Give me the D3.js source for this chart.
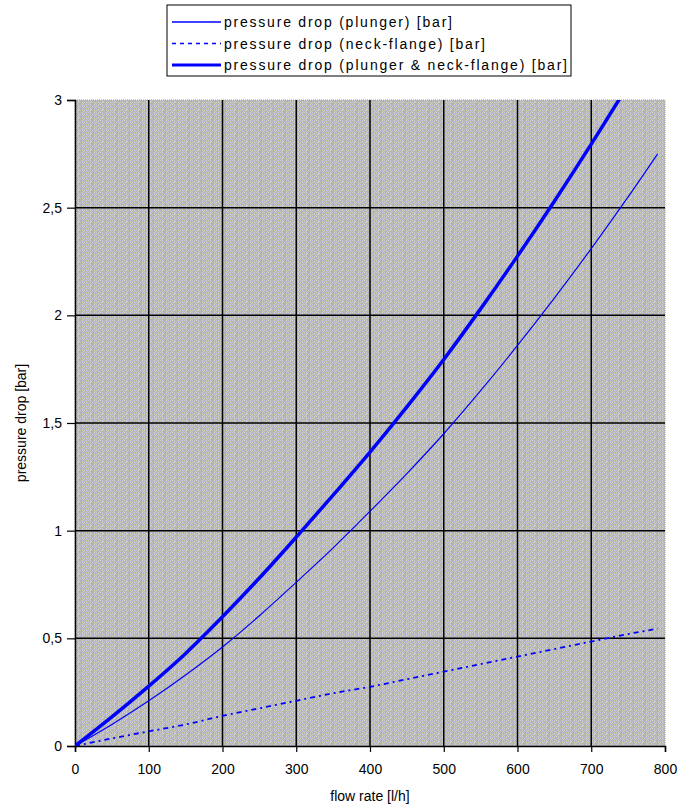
<!DOCTYPE html>
<html>
<head>
    <title>Pressure drop vs flow rate</title>
    <script src="https://d3js.org/d3.v7.min.js"></script>
    <style>
        body { margin: 0; background: #fff; }
        text { font-family: "Liberation Sans", Arial, sans-serif; fill: #000; }
    </style>
</head>
<body>
    <svg id="chart" width="687" height="809"></svg>

    <script>
        // flow rate [l/h]
        const flow = [0, 50, 100, 150, 200, 250, 300, 350, 400, 450, 500, 550, 600, 650, 700, 750, 790];
        // pressure drop (plunger) [bar]
        const plunger = [0, 0.10, 0.21, 0.33, 0.46, 0.605, 0.76, 0.92, 1.09, 1.265, 1.45, 1.65, 1.86, 2.08, 2.31, 2.55, 2.75];
        // pressure drop (neck-flange) [bar]
        const neck = [0, 0.035, 0.068, 0.10, 0.14, 0.175, 0.21, 0.245, 0.275, 0.31, 0.345, 0.38, 0.415, 0.45, 0.485, 0.52, 0.545];
        // pressure drop (plunger & neck-flange) [bar]
        const total = [0, 0.135, 0.278, 0.43, 0.60, 0.78, 0.97, 1.165, 1.365, 1.575, 1.795, 2.03, 2.275, 2.53, 2.795, 3.07, 3.295];

        const xTicks = [0, 100, 200, 300, 400, 500, 600, 700, 800];
        const yTicks = [0, 0.5, 1, 1.5, 2, 2.5, 3];

        const svg = d3.select('#chart');
        const plotLeft = 75, plotRight = 665, plotTop = 100, plotBottom = 746;

        const x = d3.scaleLinear().domain([0, 800]).range([plotLeft, plotRight]);
        const y = d3.scaleLinear().domain([0, 3]).range([plotBottom, plotTop]);

        // dithered grey background like the old spreadsheet fill
        const defs = svg.append('defs');
        const tileW = 12, tileH = 8;
        const pat = defs.append('pattern')
            .attr('id', 'dither')
            .attr('patternUnits', 'userSpaceOnUse')
            .attr('width', tileW).attr('height', tileH);
        pat.append('rect').attr('width', tileW).attr('height', tileH).attr('fill', '#b6b6b0');
        // rows of the dither tile: L = lavender, Y = pale yellow, . = grey
        const tileRows = [
            'L.L.Y.L...Y.',
            '..Y...L...L.',
            'Y.L...Y.L.L.',
            '...L...L...Y',
            'L...Y.L...L.',
            '..Y...LY....',
            'Y.L.L.Y...Y.',
            '...L.L.....L'
        ];
        const dotColour = { L: '#c4c4ec', Y: '#d8d8aa' };
        tileRows.forEach((row, r) => row.split('').forEach((c, k) => {
            if (dotColour[c]) {
                pat.append('rect').attr('x', k).attr('y', r)
                    .attr('width', 1).attr('height', 1).attr('fill', dotColour[c]);
            }
        }));

        defs.append('clipPath').attr('id', 'plotClip')
            .append('rect').attr('x', plotLeft).attr('y', plotTop)
            .attr('width', plotRight - plotLeft).attr('height', plotBottom - plotTop);

        svg.append('rect')
            .attr('x', plotLeft).attr('y', plotTop)
            .attr('width', plotRight - plotLeft).attr('height', plotBottom - plotTop)
            .attr('fill', 'url(#dither)')
            .attr('stroke', '#999')
            .attr('stroke-dasharray', '1,1');

        // grid
        svg.append('g').selectAll('line').data(xTicks.slice(1, -1)).join('line')
            .attr('x1', d => x(d)).attr('x2', d => x(d))
            .attr('y1', plotTop).attr('y2', plotBottom)
            .attr('stroke', '#000').attr('stroke-width', 1.5);
        svg.append('g').selectAll('line').data(yTicks.slice(1, -1)).join('line')
            .attr('x1', plotLeft).attr('x2', plotRight)
            .attr('y1', d => y(d)).attr('y2', d => y(d))
            .attr('stroke', '#000').attr('stroke-width', 1.5);

        // axes
        const xAxis = svg.append('g')
            .attr('transform', `translate(0,${plotBottom})`)
            .call(d3.axisBottom(x).tickValues(xTicks).tickSize(6).tickPadding(12));
        const yAxis = svg.append('g')
            .attr('transform', `translate(${plotLeft},0)`)
            .call(d3.axisLeft(y).tickValues(yTicks).tickSize(8).tickPadding(5)
                .tickFormat(d => String(d).replace('.', ',')));
        [xAxis, yAxis].forEach(a => {
            a.select('.domain').attr('stroke', '#000').attr('stroke-width', 1.5);
            a.selectAll('.tick line').attr('stroke', '#000').attr('stroke-width', 1.2);
            a.selectAll('text').attr('font-size', 14)
                .style('font-family', '"Liberation Sans", Arial, sans-serif');
        });

        // series
        const series = [
            { name: 'pressure drop (plunger) [bar]', values: plunger, width: 1.2, dash: null, legendW: 228 },
            { name: 'pressure drop (neck-flange) [bar]', values: neck, width: 1.8, dash: '5,4,2,4', legendW: 261 },
            { name: 'pressure drop (plunger & neck-flange) [bar]', values: total, width: 3.5, dash: null, legendW: 343 }
        ];

        const line = d3.line().x((d, i) => x(flow[i])).y(d => y(d)).curve(d3.curveMonotoneX);
        const plot = svg.append('g').attr('clip-path', 'url(#plotClip)');
        series.forEach(s => {
            plot.append('path')
                .datum(s.values)
                .attr('d', line)
                .attr('fill', 'none')
                .attr('stroke', '#0000ff')
                .attr('stroke-width', s.width)
                .attr('stroke-dasharray', s.dash);
        });

        // axis titles
        svg.append('text')
            .attr('x', (plotLeft + plotRight) / 2).attr('y', 801)
            .attr('text-anchor', 'middle').attr('font-size', 14)
            .text('flow rate [l/h]');
        svg.append('text')
            .attr('transform', `translate(26,${(plotTop + plotBottom) / 2}) rotate(-90)`)
            .attr('text-anchor', 'middle').attr('font-size', 14)
            .text('pressure drop [bar]');

        // legend
        const lg = svg.append('g');
        lg.append('rect')
            .attr('x', 167).attr('y', 5).attr('width', 404).attr('height', 71)
            .attr('fill', '#fff').attr('stroke', '#000').attr('stroke-width', 1);
        series.forEach((s, i) => {
            const ly = 22 + i * 21.5;
            lg.append('line')
                .attr('x1', 172).attr('x2', 221).attr('y1', ly).attr('y2', ly)
                .attr('stroke', '#0000ff')
                .attr('stroke-width', i === 2 ? 3 : 1.5)
                .attr('stroke-dasharray', i === 1 ? '4,4' : null);
            lg.append('text')
                .attr('x', 224).attr('y', ly + 5)
                .attr('font-size', 14)
                .attr('textLength', s.legendW)
                .attr('lengthAdjust', 'spacing')
                .text(s.name);
        });
    </script>
</body>
</html>
